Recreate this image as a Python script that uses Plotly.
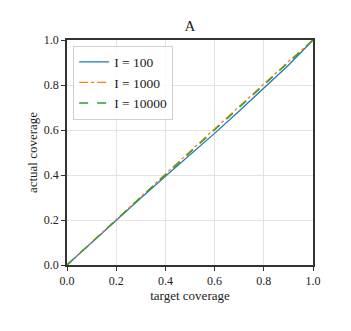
import plotly.graph_objects as go

target = [0.0, 0.1, 0.2, 0.3, 0.4, 0.5, 0.6, 0.7, 0.8, 0.9, 1.0]
cov_100 = [0.0, 0.1, 0.2, 0.298, 0.394, 0.489, 0.585, 0.684, 0.785, 0.888, 1.0]
cov_1000 = [0.0, 0.1, 0.2, 0.3, 0.404, 0.505, 0.605, 0.705, 0.805, 0.904, 1.0]
cov_10000 = [0.0, 0.1, 0.2, 0.3, 0.403, 0.504, 0.604, 0.704, 0.804, 0.903, 1.0]

fig = go.Figure()
fig.add_trace(go.Scatter(x=target, y=cov_100, mode='lines', name='I = 100',
                         line=dict(color='#1f77b4', width=1.3)))
fig.add_trace(go.Scatter(x=target, y=cov_1000, mode='lines', name='I = 1000',
                         line=dict(color='#ff7f0e', width=1.3, dash='dashdot')))
fig.add_trace(go.Scatter(x=target, y=cov_10000, mode='lines', name='I = 10000',
                         line=dict(color='#2ca02c', width=1.3, dash='dash')))

axis = dict(range=[0, 1], dtick=0.2, tickformat='.1f', ticks='outside', ticklen=4,
            tickcolor='#333', showline=True, linecolor='#333', linewidth=1.5,
            mirror=True, showgrid=True, gridcolor='#e3e3e3', gridwidth=1,
            zeroline=False, automargin=False, tickfont=dict(size=12, color='#222'))

fig.update_layout(
    width=351, height=331,
    margin=dict(l=59, r=46, t=32, b=74),
    title=dict(text='A', x=0.5, xref='paper', xanchor='center', y=0.946, yanchor='middle',
               font=dict(size=15, color='#222')),
    font=dict(family='Liberation Serif', color='#222'),
    paper_bgcolor='white', plot_bgcolor='white',
    legend=dict(x=0.025, y=0.975, xanchor='left', yanchor='top',
                bgcolor='rgba(255,255,255,0.8)', bordercolor='#d0d0d0', borderwidth=1,
                font=dict(size=13.5), tracegroupgap=0),
)
fig.update_xaxes(axis, title=dict(text='target coverage', font=dict(size=13), standoff=0))
fig.update_yaxes(axis, title=dict(text='actual coverage', font=dict(size=13), standoff=3))
fig.write_html("out.html")
